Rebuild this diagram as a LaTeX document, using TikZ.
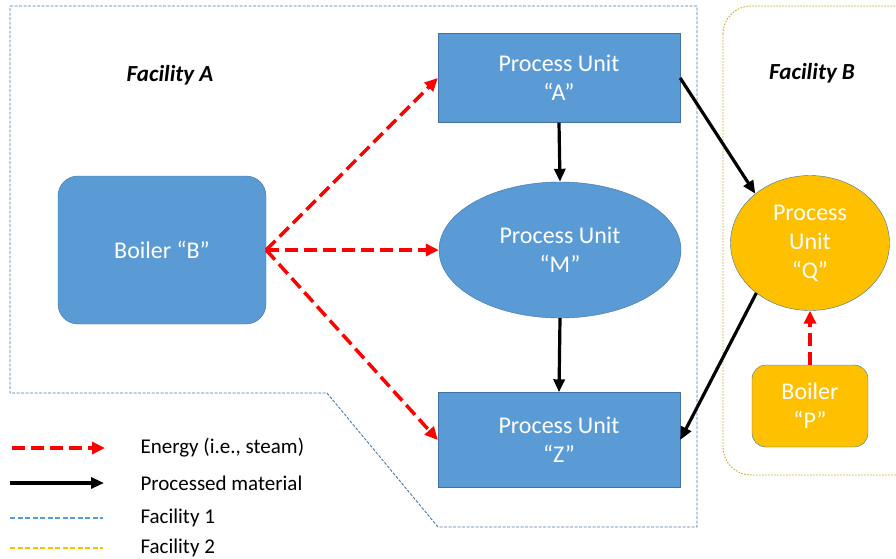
\documentclass[tikz,border=0pt]{standalone}
\usepackage{fontspec}
\setmainfont{Carlito}
\usetikzlibrary{arrows.meta,shapes.geometric}

\definecolor{unitblue}{HTML}{5B9BD5}
\definecolor{unitedge}{HTML}{41719C}
\definecolor{unitgold}{HTML}{FFC000}
\definecolor{fenceone}{HTML}{4A78A8}
\definecolor{fencetwo}{HTML}{C9A227}

\tikzset{
	unitbox/.style={draw=unitedge, fill=unitblue, text=white, align=center,
		minimum width=242pt, minimum height=89pt, inner sep=0pt,
		font=\fontsize{24}{29}\selectfont},
	unitoval/.style={ellipse, draw=unitedge, fill=unitblue, text=white, align=center,
		minimum width=242pt, minimum height=136pt, inner sep=0pt,
		font=\fontsize{24}{29}\selectfont},
	energy/.style={red, line width=3.5pt, dash pattern=on 13pt off 6pt,
		-{Triangle[length=13pt,width=12pt]}},
	material/.style={black, line width=3.2pt, -{Triangle[length=13pt,width=11pt]}},
	sitelabel/.style={font=\fontsize{23}{28}\selectfont\bfseries\itshape},
	legendtext/.style={anchor=west, font=\fontsize{21}{25}\selectfont}
}

\begin{document}
\begin{tikzpicture}[x=1pt,y=-1pt]
	\useasboundingbox (0,0) rectangle (896,558);
	
	% Facility outlines
	\draw[fenceone, line width=0.9pt, dash pattern=on 3pt off 1.5pt]
		(10,6) -- (697,6) -- (697,527) -- (438,527) -- (327,393) -- (10,393) -- cycle;
	\draw[fencetwo, line width=0.9pt, dash pattern=on 1.5pt off 1.5pt, rounded corners=28pt]
		(723,6) rectangle (930,475);
	
	% Labels
	\node[sitelabel] (labA) at (170,75) {Facility A};
	\node[sitelabel] (labB) at (812,73) {Facility B};
	
	% Units of facility A
	\node[unitbox, minimum width=208pt, minimum height=148pt, rounded corners=20pt] (B) at (162,250) {Boiler “B”};
	\node[unitbox] (A) at (559,78) {Process Unit\\“A”};
	\node[unitoval] (M) at (560,250) {Process Unit\\“M”};
	\node[unitbox, minimum height=95pt] (Z) at (559,440) {Process Unit\\“Z”};
	
	% Units of facility B
	\node[unitoval, fill=unitgold, minimum width=159pt, minimum height=135pt] (Q) at (810,243) {Process\\Unit\\“Q”};
	\node[unitbox, fill=unitgold, minimum width=116pt, minimum height=82pt, rounded corners=14pt] (P) at (810,406) {Boiler\\“P”};
	
	% Energy
	\draw[energy] (B.east) -- (A.west);
	\draw[energy] (B.east) -- (M.west);
	\draw[energy] (B.east) -- (Z.west);
	\draw[energy] (P.north) -- (Q.south);
	
	% Material
	\draw[material] (A.south) -- (M.north);
	\draw[material] (M.south) -- (Z.north);
	\draw[material] (A.east) -- (Q.138);
	\draw[material] (Q.223) -- (Z.east);
	
	% Legend
	\coordinate (e0) at (12,448);  \coordinate (e1) at (105,448);
	\coordinate (m0) at (10,483);  \coordinate (m1) at (104,483);
	\coordinate (f0) at (10,518);  \coordinate (f1) at (103,518);
	\coordinate (g0) at (10,548);  \coordinate (g1) at (103,548);
	\draw[energy] (e0) -- (e1);
	\draw[material] (m0) -- (m1);
	\draw[unitblue, line width=1.5pt, dash pattern=on 5pt off 2.5pt] (f0) -- (f1);
	\draw[unitgold, line width=1.5pt, dash pattern=on 5pt off 2.5pt] (g0) -- (g1);
	\node[legendtext] (te) at (137,448) {Energy (i.e., steam)};
	\node[legendtext] (tm) at (137,483) {Processed material};
	\node[legendtext] (tf) at (137,518) {Facility 1};
	\node[legendtext] (tg) at (137,548) {Facility 2};
	
\end{tikzpicture}
\end{document}
